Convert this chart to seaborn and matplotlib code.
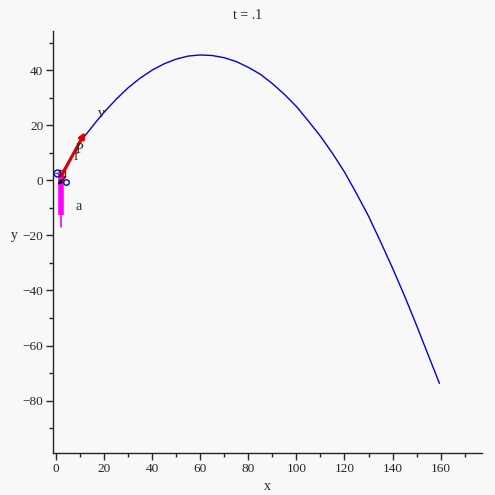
import matplotlib
matplotlib.use("Agg")
import matplotlib.pyplot as plt
import seaborn as sns
import pandas as pd
from matplotlib.ticker import MultipleLocator

# trajectory
path_x = [2.4, 5, 8, 11, 14, 17, 20, 25, 30, 35, 40, 45, 50, 55, 60, 65, 70, 75,
          80, 85, 90, 95, 100, 105, 110, 115, 120, 125, 130, 135, 140, 145, 150,
          155, 159.5]
path_y = [2.5, 6.6, 11.0, 15.0, 18.3, 21.6, 24.7, 29.4, 33.6, 37.1, 40.0, 42.3,
          44.0, 45.1, 45.5, 45.3, 44.5, 43.1, 41.0, 38.5, 35.1, 31.2, 26.8, 21.5,
          16.0, 9.8, 3.0, -4.8, -13.0, -22.3, -31.9, -42.0, -52.7, -63.8, -73.7]

# vectors at the particle
vel_start = (2.5, 2.0)
vel_end = (12.1, 17.5)
acc_start = (2.1, 3.0)
acc_end = (2.1, -17.0)

labels = ["v", "P", "f", "a"]
label_x = [19.0, 9.6, 8.2, 9.3]
label_y = [24.3, 11.1, 8.6, -9.6]

sns.set_style("ticks")
plt.rcParams["font.family"] = ["Liberation Serif", "DejaVu Serif"]

bg = "#f8f8f8"
fig = plt.figure(figsize=(4.95, 4.95), dpi=100, facecolor=bg)
ax = fig.add_axes([0.1071, 0.0848, 0.8666, 0.8526], facecolor=bg)

df = pd.DataFrame({"x": path_x, "y": path_y})
sns.lineplot(data=df, x="x", y="y", sort=False, color="#0000e0", linewidth=1, ax=ax)

# velocity arrow (red)
ax.annotate("", xy=vel_end, xytext=vel_start,
            arrowprops=dict(arrowstyle="-|>", color="#dd0000", lw=2.2,
                            mutation_scale=8, shrinkA=0, shrinkB=0))
# acceleration arrow (magenta)
ax.plot([acc_start[0], acc_start[0]], [acc_start[1], -12.5], color="#ff00ff", lw=4,
        solid_capstyle="butt")
ax.plot([acc_start[0], acc_end[0]], [-12.5, acc_end[1]], color="#ff00ff", lw=1.2)

# small markers at the particle
ax.plot([2.4], [2.8], marker="s", ms=5, mfc="none", mec="#dd0000", mew=1)
ax.plot([0.3], [2.6], marker="o", ms=5, mfc="none", mec="#0000e0", mew=1)
ax.plot([-0.5, 1.2], [2.6, 2.6], color="#00a000", lw=1)
ax.plot([4.2], [-0.6], marker="o", ms=4, mfc="none", mec="#0000e0", mew=1)
ax.annotate("", xy=(0.6, -1.6), xytext=(4.0, 1.2),
            arrowprops=dict(arrowstyle="-|>", color="black", lw=1,
                            mutation_scale=6, shrinkA=0, shrinkB=0))

for s, lx, ly in zip(labels, label_x, label_y):
    ax.text(lx, ly, s, fontsize=10, ha="center", va="center")

ax.set_xlim(-1.25, 177.2)
ax.set_ylim(-99, 54.2)
ax.xaxis.set_minor_locator(MultipleLocator(10))
ax.yaxis.set_minor_locator(MultipleLocator(10))
ax.set_xticks(range(0, 161, 20))
ax.set_yticks(range(-80, 41, 20))
ax.tick_params(which="major", length=5, width=1, labelsize=9.5, pad=2)
ax.tick_params(which="minor", length=3, width=1)
sns.despine(ax=ax)
for sp in ax.spines.values():
    sp.set_linewidth(1)

ax.set_xlabel("x", fontsize=10, labelpad=4)
ax.set_ylabel("y", fontsize=10, rotation=0)
ax.yaxis.set_label_coords(-0.09, 0.5)
fig.text(0.5, 0.968, "t = .1", fontsize=10, ha="center", va="center")

fig.savefig("out.png", dpi=100, facecolor=bg)
